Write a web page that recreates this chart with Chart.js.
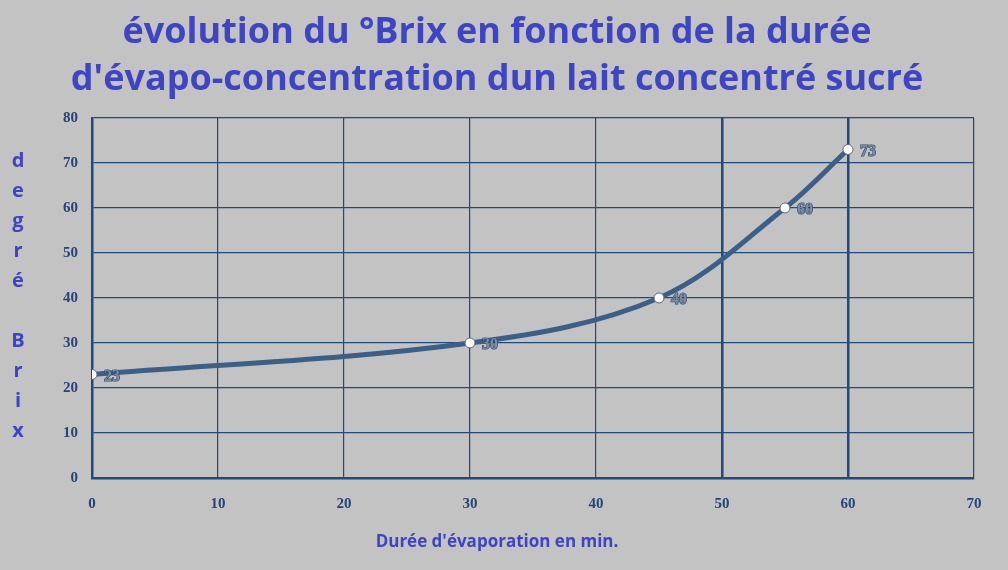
<!DOCTYPE html>
<html>
<head>
<meta charset="utf-8">
<script src="https://cdn.jsdelivr.net/npm/chart.js@4/dist/chart.umd.min.js"></script>
<style>
  html, body { margin: 0; padding: 0; background: #c3c3c3; }
  #wrap { width: 1008px; height: 570px; }
</style>
</head>
<body>
<div id="wrap"><canvas id="chart"></canvas></div>
<script>
// Données
const durees = [0, 30, 45, 55, 60];
const brix = [23, 30, 40, 60, 73];
const titreLignes = ["évolution du °Brix en fonction de la durée", "d'évapo-concentration dun lait concentré sucré"];
const titreX = "Durée d'évaporation en min.";
const lettresY = ["d", "e", "g", "r", "é", "", "B", "r", "i", "x"];

const bleuTitre = '#3d44c6';
const bleuGrille = '#1f4b7a';

// Étiquettes des valeurs à droite des points
const etiquettesPlugin = {
  id: 'etiquettes',
  afterDatasetsDraw(chart) {
    const ctx = chart.ctx;
    const meta = chart.getDatasetMeta(0);
    ctx.save();
    ctx.font = 'bold 16px "Liberation Serif"';
    ctx.textAlign = 'left';
    ctx.textBaseline = 'middle';
    meta.data.forEach((pt, i) => {
      const txt = String(brix[i]);
      ctx.lineWidth = 1.2;
      ctx.strokeStyle = '#2a4870';
      ctx.strokeText(txt, pt.x + 12, pt.y + 2);
      ctx.fillStyle = '#7d8ca0';
      ctx.fillText(txt, pt.x + 12, pt.y + 2);
    });
    ctx.restore();
  }
};

// Titre vertical de l'axe Y, une lettre par ligne
const titreYPlugin = {
  id: 'titreY',
  afterDraw(chart) {
    const ctx = chart.ctx;
    ctx.save();
    ctx.font = 'bold 20px "Open Sans"';
    ctx.fillStyle = bleuTitre;
    ctx.textAlign = 'center';
    ctx.textBaseline = 'middle';
    lettresY.forEach((l, i) => {
      ctx.fillText(l, 18, 161 + i * 30);
    });
    ctx.restore();
  }
};

const ctx = document.getElementById('chart').getContext('2d');
new Chart(ctx, {
  type: 'line',
  data: {
    datasets: [{
      data: durees.map((d, i) => ({ x: d, y: brix[i] })),
      borderColor: '#3b5f86',
      borderWidth: 5,
      tension: 0.35,
      fill: false,
      pointRadius: 5,
      pointBackgroundColor: '#ffffff',
      pointBorderColor: '#5a6a7a',
      pointBorderWidth: 1
    }]
  },
  options: {
    responsive: true,
    maintainAspectRatio: false,
    animation: false,
    layout: { padding: { left: 0, right: 14, top: 0, bottom: 0 } },
    plugins: {
      legend: { display: false },
      tooltip: { enabled: false },
      title: {
        display: true,
        text: titreLignes,
        color: bleuTitre,
        font: { family: 'Open Sans', size: 36, weight: 'bold', lineHeight: 1.305 },
        padding: { top: 9.5, bottom: 14.5 }
      },
      subtitle: {
        display: true,
        position: 'bottom',
        text: titreX,
        color: bleuTitre,
        font: { family: 'Open Sans', size: 17, weight: 'bold', lineHeight: 1.2 },
        padding: { top: 11.6, bottom: 18 }
      }
    },
    scales: {
      x: {
        type: 'linear',
        min: 0,
        max: 70,
        ticks: {
          stepSize: 10,
          color: '#24457a',
          padding: 17,
          font: { family: 'Liberation Serif', size: 15, weight: 'bold' }
        },
        grid: {
          color: bleuGrille,
          lineWidth: c => (c.tick && (c.tick.value === 50 || c.tick.value === 60)) ? 2.5 : 1.2,
          drawTicks: false
        },
        border: { color: bleuGrille, width: 2.5 },
        afterFit: s => { s.height = 42; }
      },
      y: {
        min: 0,
        max: 80,
        ticks: {
          stepSize: 10,
          color: '#24457a',
          padding: 14,
          font: { family: 'Liberation Serif', size: 15, weight: 'bold' }
        },
        grid: { color: bleuGrille, lineWidth: 1.2, drawTicks: false },
        border: { color: bleuGrille, width: 2.5 },
        afterFit: s => { s.width = 92; }
      },
      // marge à droite du graphique (aucun affichage)
      marge: {
        position: 'right',
        display: true,
        ticks: { display: false },
        grid: { display: false },
        border: { display: false },
        afterFit: s => { s.width = 20; }
      }
    }
  },
  plugins: [etiquettesPlugin, titreYPlugin]
});
</script>
</body>
</html>
